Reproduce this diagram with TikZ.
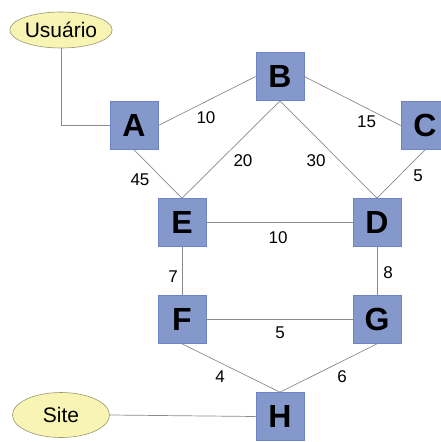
\documentclass[tikz,border=0pt]{standalone}
\usepackage{fontspec}
\setmainfont{Liberation Sans}
\usetikzlibrary{shapes.geometric}
\definecolor{boxfill}{HTML}{8598CC}
\definecolor{boxedge}{HTML}{6F84C6}
\definecolor{ellfill}{HTML}{F8F4B4}
\definecolor{elledge}{HTML}{9A9670}
\definecolor{wire}{HTML}{8A8A8A}
\tikzset{
  router/.style={draw=boxedge, fill=boxfill, line width=0.6pt,
    minimum width=48pt, minimum height=48pt, inner sep=0pt,
    font=\fontsize{32}{32}\selectfont\bfseries},
  endpoint/.style={ellipse, draw=elledge, fill=ellfill, line width=0.6pt,
    inner sep=0pt, font=\fontsize{21}{21}\selectfont},
  link/.style={draw=wire, line width=0.7pt},
  cost/.style={font=\fontsize{17}{17}\selectfont, inner sep=0pt}
}
\begin{document}
\begin{tikzpicture}[x=1pt, y=-1pt]
\useasboundingbox (0,0) rectangle (441,442);

% endpoints
\node[endpoint, minimum width=97pt, minimum height=36pt] (usr) at (61,30) {Usuário};
\node[endpoint, minimum width=97pt, minimum height=45pt] (site) at (61,415) {Site};

% routers
\node[router] (A) at (134,125.5) {A};
\node[router] (B) at (280,76.5) {B};
\node[router] (C) at (425,125.5) {C};
\node[router] (E) at (182,222.5) {E};
\node[router] (D) at (377,222.5) {D};
\node[router] (F) at (182,319.5) {F};
\node[router] (G) at (377,319.5) {G};
\node[router] (H) at (280,416.5) {H};

% links
\coordinate (bend) at (usr.south |- A.west);
\draw[link] (usr.south) -- (bend) -- (A.west);
\draw[link] (A.east) -- (B.west);
\draw[link] (B.east) -- (C.west);
\draw[link] (A.south) -- (E.north);
\draw[link] (B.south) -- (E.north);
\draw[link] (B.south) -- (D.north);
\draw[link] (C.south) -- (D.north);
\draw[link] (E.east) -- (D.west);
\draw[link] (E.south) -- (F.north);
\draw[link] (D.south) -- (G.north);
\draw[link] (F.east) -- (G.west);
\draw[link] (F.south) -- (H.north);
\draw[link] (G.south) -- (H.north);
\draw[link] (site.east) -- (H.west);

% link costs
\node[cost] (cab) at (206,118) {10};
\node[cost] (cbc) at (366.5,122) {15};
\node[cost] (cbe) at (243,161) {20};
\node[cost] (cbd) at (316,161) {30};
\node[cost] (cae) at (140,180) {45};
\node[cost] (ccd) at (418,176) {5};
\node[cost] (ced) at (278,238) {10};
\node[cost] (cef) at (173,277) {7};
\node[cost] (cdg) at (388,273) {8};
\node[cost] (cfg) at (280,333) {5};
\node[cost] (cfh) at (220,377) {4};
\node[cost] (cgh) at (342,377) {6};
\end{tikzpicture}
\end{document}
